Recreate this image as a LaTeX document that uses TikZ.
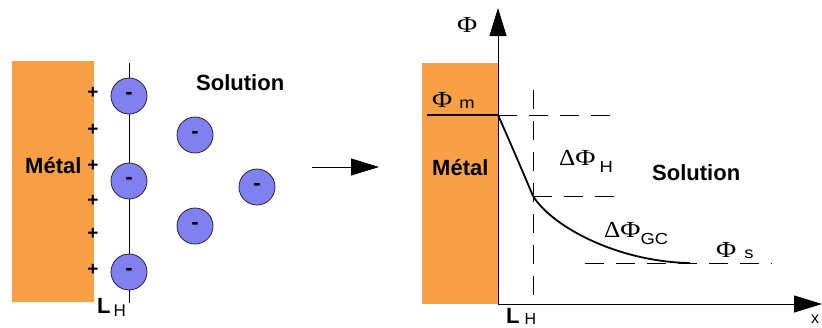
\documentclass[tikz,border=0pt]{standalone}
\usepackage{fontspec}
\setmainfont{Liberation Sans}
\newfontfamily\phifont{Liberation Serif}
\usetikzlibrary{arrows.meta}
\definecolor{metalorange}{HTML}{F9A046}
\definecolor{ionblue}{HTML}{8080F0}
\tikzset{
  metal/.style={fill=metalorange, draw=none},
  ion/.style={circle, minimum size=36pt, inner sep=0pt, fill=ionblue, draw=black!85, line width=0.8pt,
    font=\bfseries\fontsize{22}{22}\selectfont},
  plussign/.style={font=\bfseries\fontsize{19}{19}\selectfont, inner sep=0pt},
  lbl/.style={font=\bfseries\fontsize{22}{22}\selectfont, inner sep=0pt, anchor=base west},
  phi/.style={font=\fontsize{23}{23}\selectfont, inner sep=0pt, anchor=base west},
  dashline/.style={dash pattern=on 19pt off 12pt, line width=0.9pt},
  bigarrow/.style={-{Triangle[length=28pt,width=17pt]}, line width=1pt},
}
\newcommand{\PhiW}{{\phifont\scalebox{1.2}[1]{Φ}}}
\newcommand{\DeltaW}{{\phifont\scalebox{1.1}[1]{Δ}}}
\newcommand{\subtxt}[2]{\raisebox{#1}{\fontsize{16}{16}\selectfont\scalebox{1.15}[1]{#2}}}
\begin{document}
\begin{tikzpicture}[x=1pt,y=-1pt]
\useasboundingbox (0,0) rectangle (822,327);
% ---------- left panel ----------
\fill[metal] (12,61) rectangle (94,302);
\coordinate (ltop) at (129,63);
\coordinate (lbot) at (129,303);
\draw[line width=1pt] (ltop) -- (lbot);
\node[ion] (i1) at (129,96) {-};
\node[ion] (i2) at (129,181) {-};
\node[ion] (i3) at (129,272) {-};
\node[ion] (i4) at (195,135) {-};
\node[ion] (i5) at (257,187) {-};
\node[ion] (i6) at (195,226) {-};
\foreach \y/\n in {93/1,130/2,166/3,201/4,234/5,270/6}
  \node[plussign] (p\n) at (93,\y) {+};
\node[lbl] (lmetal) at (25,173) {Métal};
\node[lbl] (lsol) at (196,90) {Solution};
\node[lbl] (lLH) at (97,313) {L\hspace{3pt}\raisebox{-3pt}{\mdseries\fontsize{17}{17}\selectfont H}};
% ---------- arrow ----------
\coordinate (as) at (312,167);
\coordinate (ae) at (379,167);
\draw[bigarrow] (as) -- (ae);
% ---------- right panel ----------
\fill[metal] (422,63) rectangle (498,304);
\coordinate (O) at (498,304);
\coordinate (ytip) at (498,8);
\coordinate (xtip) at (822,304);
\draw[bigarrow] (O) -- (ytip);
\draw[bigarrow] (O) -- (xtip);
\coordinate (pm0) at (427,115);
\coordinate (pm) at (498,115);
\coordinate (h) at (533,196);
\coordinate (s) at (690,263);
\draw[line width=2pt] (pm0) -- (pm);
\draw[dashline] (pm) -- (618,115);
\draw[dashline] (533,90) -- (533,304);
\draw[dashline] (h) -- (618,196);
\draw[dashline] (585,263) -- (772,263);
\draw[line width=1.8pt] (pm) .. controls (510,142) and (522,170) .. (h)
  .. controls (553,228) and (620,262) .. (s);
\node[phi] (phiax) at (457,32) {\PhiW};
\node[phi] (phim) at (432,107) {\PhiW\hspace{7pt}\subtxt{-1pt}{m}};
\node[lbl] (rmetal) at (432,175) {Métal};
\node[lbl] (rsol) at (652,180) {Solution};
\node[phi] (dphih) at (559,165) {\DeltaW\PhiW\hspace{4pt}\subtxt{-7pt}{H}};
\node[phi] (dphigc) at (604,237) {\DeltaW\PhiW\subtxt{-7pt}{GC}};
\node[phi] (phis) at (716,257) {\PhiW\hspace{8pt}\subtxt{-1pt}{s}};
\node[lbl] (rLH) at (506,323) {L\hspace{5pt}\raisebox{-1pt}{\mdseries\fontsize{16}{16}\selectfont H}};
\node[font=\fontsize{16}{16}\selectfont, inner sep=0pt, anchor=base] (xlab) at (815,323) {x};
\end{tikzpicture}
\end{document}
